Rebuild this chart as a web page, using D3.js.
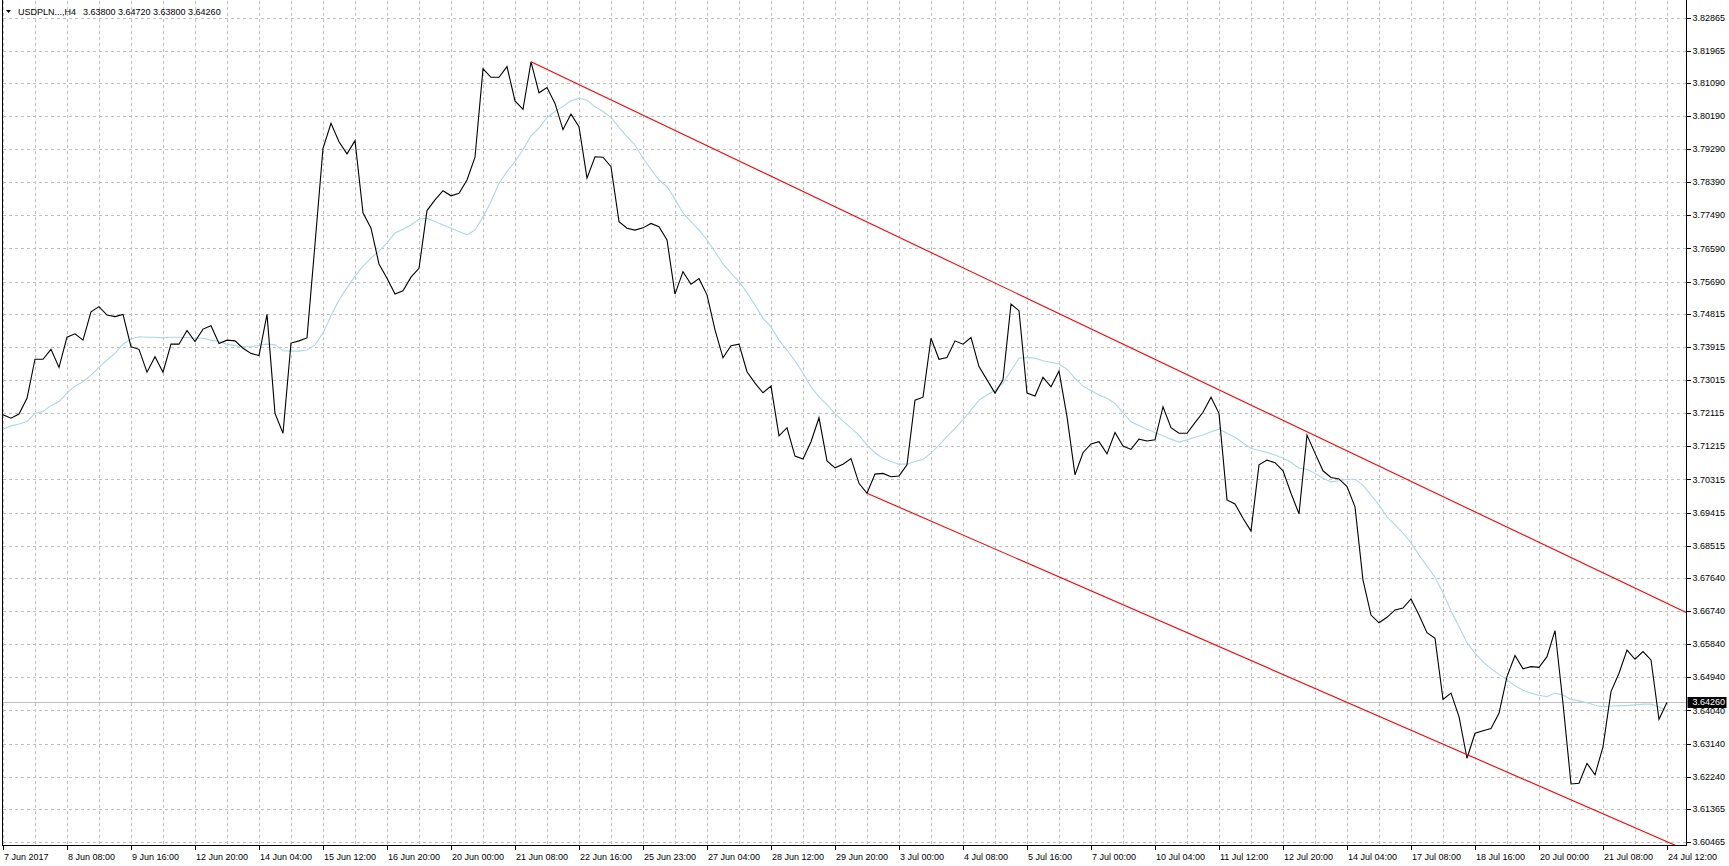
<!DOCTYPE html>
<html>
<head>
<meta charset="utf-8">
<script src="https://cdn.jsdelivr.net/npm/d3@7"></script>
<style>
  html, body { margin: 0; padding: 0; background: #ffffff; }
  svg { display: block; }
  text { font-family: "Liberation Sans", Arial, sans-serif; font-size: 9px; fill: #000; }
</style>
</head>
<body>
<svg id="chart" width="1729" height="866"></svg>
<script>
// ---------------- DATA ----------------
const symbolTitle = "USDPLN...,H4";
const ohlcTitle = ["3.63800", "3.64720", "3.63800", "3.64260"];
const lastPrice = 3.64260;

// H4 closing prices, one per bar (bar 0 = 7 Jun 2017 00:00, bar 208 = 24 Jul 12:00)
const closes = [
  3.7207, 3.7198, 3.7209, 3.7252, 3.7358, 3.7358, 3.7385, 3.7336, 3.7418, 3.7427,
  3.7410, 3.7487, 3.7501, 3.7478, 3.7474, 3.7480, 3.7392, 3.7385, 3.7323, 3.7365,
  3.7323, 3.7399, 3.7399, 3.7436, 3.7406, 3.7440, 3.7449, 3.7401, 3.7410, 3.7408,
  3.7388, 3.7374, 3.7368, 3.7480, 3.7211, 3.7157, 3.7402, 3.7408, 3.7416, 3.7671,
  3.7931, 3.7999, 3.7949, 3.7916, 3.7952, 3.7756, 3.7714, 3.7617, 3.7578, 3.7535,
  3.7544, 3.7581, 3.7605, 3.7762, 3.7791, 3.7816, 3.7802, 3.7809, 3.7845, 3.7907,
  3.8147, 3.8124, 3.8124, 3.8153, 3.8060, 3.8037, 3.8166, 3.8082, 3.8096, 3.8053,
  3.7982, 3.8024, 3.7990, 3.7850, 3.7908, 3.7907, 3.7881, 3.7732, 3.7714, 3.7709,
  3.7715, 3.7727, 3.7718, 3.7682, 3.7535, 3.7596, 3.7562, 3.7577, 3.7533, 3.7438,
  3.7362, 3.7395, 3.7399, 3.7324, 3.7293, 3.7267, 3.7285, 3.7150, 3.7172, 3.7095,
  3.7087, 3.7134, 3.7199, 3.7082, 3.7063, 3.7073, 3.7088, 3.7021, 3.6994, 3.7046,
  3.7048, 3.7039, 3.7041, 3.7071, 3.7247, 3.7255, 3.7415, 3.7358, 3.7363, 3.7408,
  3.7399, 3.7417, 3.7338, 3.7302, 3.7266, 3.7302, 3.7508, 3.7490, 3.7266, 3.7258,
  3.7309, 3.7283, 3.7326, 3.7202, 3.7044, 3.7104, 3.7128, 3.7134, 3.7101, 3.7159,
  3.7122, 3.7113, 3.7141, 3.7136, 3.7139, 3.7229, 3.7172, 3.7157, 3.7157, 3.7186,
  3.7214, 3.7255, 3.7211, 3.6976, 3.6965, 3.6926, 3.6891, 3.7071, 3.7084, 3.7077,
  3.7055, 3.6994, 3.6938, 3.7152, 3.7103, 3.7055, 3.7037, 3.7033, 3.7012, 3.6957,
  3.6758, 3.6663, 3.6642, 3.6657, 3.6677, 3.6682, 3.6707, 3.6663, 3.6615, 3.6600,
  3.6434, 3.6451, 3.6387, 3.6274, 3.6342, 3.6349, 3.6355, 3.6396, 3.6496, 3.6553,
  3.6517, 3.6523, 3.6521, 3.6550, 3.6621, 3.6423, 3.6204, 3.6206, 3.6260, 3.6229,
  3.6305, 3.6455, 3.6505, 3.6568, 3.6543, 3.6564, 3.6541, 3.6380, 3.6426
];

// Moving average (light blue line), one value per bar
const movingAvg = [
  3.7168, 3.7177, 3.7182, 3.7189, 3.7211, 3.7216, 3.7232, 3.7243, 3.7266, 3.7285,
  3.7297, 3.7315, 3.7336, 3.7356, 3.7374, 3.7399, 3.7413, 3.7419, 3.7418, 3.7418,
  3.7416, 3.7418, 3.7418, 3.7417, 3.7415, 3.7415, 3.7410, 3.7406, 3.7399, 3.7395,
  3.7392, 3.7392, 3.7396, 3.7399, 3.7397, 3.7381, 3.7380, 3.7380, 3.7383, 3.7397,
  3.7429, 3.7476, 3.7519, 3.7552, 3.7584, 3.7611, 3.7633, 3.7652, 3.7674, 3.7701,
  3.7711, 3.7723, 3.7739, 3.7741, 3.7732, 3.7723, 3.7714, 3.7705, 3.7696, 3.7709,
  3.7745, 3.7786, 3.7836, 3.7868, 3.7895, 3.7927, 3.7965, 3.7986, 3.8015, 3.8031,
  3.8045, 3.8060, 3.8067, 3.8062, 3.8044, 3.8031, 3.8015, 3.7988, 3.7963, 3.7940,
  3.7904, 3.7874, 3.7845, 3.7827, 3.7793, 3.7755, 3.7732, 3.7709, 3.7682, 3.7650,
  3.7617, 3.7592, 3.7569, 3.7539, 3.7505, 3.7469, 3.7446, 3.7410, 3.7383, 3.7354,
  3.7320, 3.7283, 3.7256, 3.7234, 3.7211, 3.7190, 3.7171, 3.7152, 3.7125, 3.7104,
  3.7089, 3.7080, 3.7073, 3.7073, 3.7080, 3.7086, 3.7103, 3.7125, 3.7148, 3.7170,
  3.7193, 3.7220, 3.7247, 3.7261, 3.7274, 3.7293, 3.7327, 3.7361, 3.7363, 3.7361,
  3.7354, 3.7350, 3.7345, 3.7331, 3.7306, 3.7285, 3.7273, 3.7261, 3.7252, 3.7238,
  3.7213, 3.7188, 3.7178, 3.7168, 3.7159, 3.7150, 3.7141, 3.7133, 3.7139, 3.7146,
  3.7152, 3.7161, 3.7168, 3.7157, 3.7146, 3.7131, 3.7116, 3.7110, 3.7105, 3.7098,
  3.7089, 3.7078, 3.7062, 3.7059, 3.7048, 3.7035, 3.7025, 3.7028, 3.7032, 3.7032,
  3.7016, 3.6989, 3.6962, 3.6930, 3.6908, 3.6886, 3.6859, 3.6826, 3.6796, 3.6766,
  3.6724, 3.6674, 3.6631, 3.6588, 3.6559, 3.6536, 3.6518, 3.6502, 3.6487, 3.6471,
  3.6459, 3.6451, 3.6445, 3.6441, 3.6451, 3.6446, 3.6434, 3.6430, 3.6425, 3.6418,
  3.6414, 3.6416, 3.6417, 3.6417, 3.6419, 3.6421, 3.6421, 3.6414, 3.6401
];

// Channel trend lines: two anchor points each [barIndex, price]
const upperTrend = [[66, 3.8166], [163, 3.7161]];
const lowerTrend = [[108, 3.6994], [183, 3.6284]];

// Price axis labels
const priceTicks = [
  3.82865, 3.81965, 3.81090, 3.80190, 3.79290, 3.78390, 3.77490, 3.76590, 3.75690,
  3.74815, 3.73915, 3.73015, 3.72115, 3.71215, 3.70315, 3.69415, 3.68515, 3.67640,
  3.66740, 3.65840, 3.64940, 3.64040, 3.63140, 3.62240, 3.61365, 3.60465
];

// Time axis labels, one every 8 bars
const timeLabels = [
  "7 Jun 2017", "8 Jun 08:00", "9 Jun 16:00", "12 Jun 20:00", "14 Jun 04:00",
  "15 Jun 12:00", "16 Jun 20:00", "20 Jun 00:00", "21 Jun 08:00", "22 Jun 16:00",
  "25 Jun 23:00", "27 Jun 04:00", "28 Jun 12:00", "29 Jun 20:00", "3 Jul 00:00",
  "4 Jul 08:00", "5 Jul 16:00", "7 Jul 00:00", "10 Jul 04:00", "11 Jul 12:00",
  "12 Jul 20:00", "14 Jul 04:00", "17 Jul 08:00", "18 Jul 16:00", "20 Jul 00:00",
  "21 Jul 08:00", "24 Jul 12:00"
];
const barsPerLabel = 8;
const barsPerGrid = 4;

// ---------------- LAYOUT ----------------
const plot = { left: 2.5, right: 1686.5, top: 1, bottom: 845.5 };
const svg = d3.select("#chart");

const x = d3.scaleLinear().domain([0, closes.length - 1]).range([3, 1667]);
const y = d3.scaleLinear().domain([3.60465, 3.82865]).range([842, 17.5]);

svg.append("rect").attr("width", 1729).attr("height", 866).attr("fill", "#fff");

svg.append("defs").append("clipPath").attr("id", "plotClip")
  .append("rect")
  .attr("x", plot.left).attr("y", plot.top)
  .attr("width", plot.right - plot.left).attr("height", plot.bottom - plot.top);

// ---------------- GRID ----------------
const grid = svg.append("g").attr("shape-rendering", "crispEdges")
  .attr("stroke", "#c0c0c0").attr("stroke-width", 1).attr("stroke-dasharray", "3,3");

grid.selectAll("line.h").data(priceTicks).join("line").attr("class", "h")
  .attr("x1", plot.left).attr("x2", plot.right)
  .attr("y1", d => Math.round(y(d)) + 0.5).attr("y2", d => Math.round(y(d)) + 0.5);

const gridBars = d3.range(0, closes.length, barsPerGrid);
grid.selectAll("line.v").data(gridBars).join("line").attr("class", "v")
  .attr("x1", d => Math.round(x(d)) + 0.5).attr("x2", d => Math.round(x(d)) + 0.5)
  .attr("y1", plot.top).attr("y2", plot.bottom);

// ---------------- SERIES ----------------
const plotG = svg.append("g").attr("clip-path", "url(#plotClip)");

// current price line
plotG.append("line")
  .attr("x1", plot.left).attr("x2", plot.right)
  .attr("y1", Math.round(y(lastPrice)) + 0.5).attr("y2", Math.round(y(lastPrice)) + 0.5)
  .attr("stroke", "#c0c0c0").attr("stroke-width", 1).attr("shape-rendering", "crispEdges");

const line = d3.line().x((d, i) => x(i)).y(d => y(d));

plotG.append("path").datum(movingAvg)
  .attr("d", line).attr("fill", "none")
  .attr("stroke", "#add8e6").attr("stroke-width", 1.1);

plotG.append("path").datum(closes)
  .attr("d", line).attr("fill", "none")
  .attr("stroke", "#000").attr("stroke-width", 1.1);

// trend lines (rays extending to the right edge)
const iEnd = x.invert(plot.right + 2);
function ray(anchors) {
  const [[i1, p1], [i2, p2]] = anchors;
  const pEnd = p1 + (p2 - p1) * (iEnd - i1) / (i2 - i1);
  return [[i1, p1], [iEnd, pEnd]];
}
const trendLine = d3.line().x(d => x(d[0])).y(d => y(d[1]));
[upperTrend, lowerTrend].forEach(t => {
  plotG.append("path").datum(ray(t))
    .attr("d", trendLine).attr("fill", "none")
    .attr("stroke", "#ff0000").attr("stroke-width", 1.1);
});

// ---------------- FRAME / AXES ----------------
const frame = svg.append("g").attr("stroke", "#000").attr("stroke-width", 1)
  .attr("shape-rendering", "crispEdges");
frame.append("line").attr("x1", plot.left).attr("x2", plot.left).attr("y1", 0).attr("y2", plot.bottom);
frame.append("line").attr("x1", plot.right).attr("x2", plot.right).attr("y1", 0).attr("y2", plot.bottom);
frame.append("line").attr("x1", plot.left).attr("x2", plot.right).attr("y1", plot.bottom).attr("y2", plot.bottom);

// price axis
const yAxis = svg.append("g");
yAxis.selectAll("line").data(priceTicks).join("line")
  .attr("x1", plot.right).attr("x2", plot.right + 4)
  .attr("y1", d => Math.round(y(d)) + 0.5).attr("y2", d => Math.round(y(d)) + 0.5)
  .attr("stroke", "#000").attr("shape-rendering", "crispEdges");
yAxis.selectAll("text").data(priceTicks).join("text")
  .attr("x", plot.right + 6).attr("y", d => y(d))
  .attr("dy", "0.35em")
  .text(d => d.toFixed(5));

// current price label
const lp = svg.append("g");
lp.append("rect")
  .attr("x", plot.right + 1).attr("y", Math.round(y(lastPrice)) - 5)
  .attr("width", 39).attr("height", 11).attr("fill", "#000");
lp.append("text")
  .attr("x", plot.right + 6).attr("y", y(lastPrice)).attr("dy", "0.35em")
  .style("fill", "#fff")
  .text(lastPrice.toFixed(5));

// time axis
const labelBars = timeLabels.map((t, k) => ({ t, i: k * barsPerLabel }));
const xAxis = svg.append("g");
xAxis.selectAll("line").data(labelBars).join("line")
  .attr("x1", d => Math.round(x(d.i)) + 0.5).attr("x2", d => Math.round(x(d.i)) + 0.5)
  .attr("y1", plot.bottom).attr("y2", plot.bottom + 4)
  .attr("stroke", "#000").attr("shape-rendering", "crispEdges");
xAxis.selectAll("text").data(labelBars).join("text")
  .attr("x", d => x(d.i) + 1).attr("y", 857).attr("dy", "0.35em")
  .text(d => d.t);

// ---------------- TITLE ----------------
const title = svg.append("g");
title.append("path").attr("d", "M6,10 L11,10 L8.5,13 Z").attr("fill", "#000");
title.append("text").attr("x", 18).attr("y", 12).attr("dy", "0.35em")
  .text(symbolTitle);
title.append("text").attr("x", 83).attr("y", 12).attr("dy", "0.35em")
  .text(ohlcTitle.join(" "));
</script>
</body>
</html>
